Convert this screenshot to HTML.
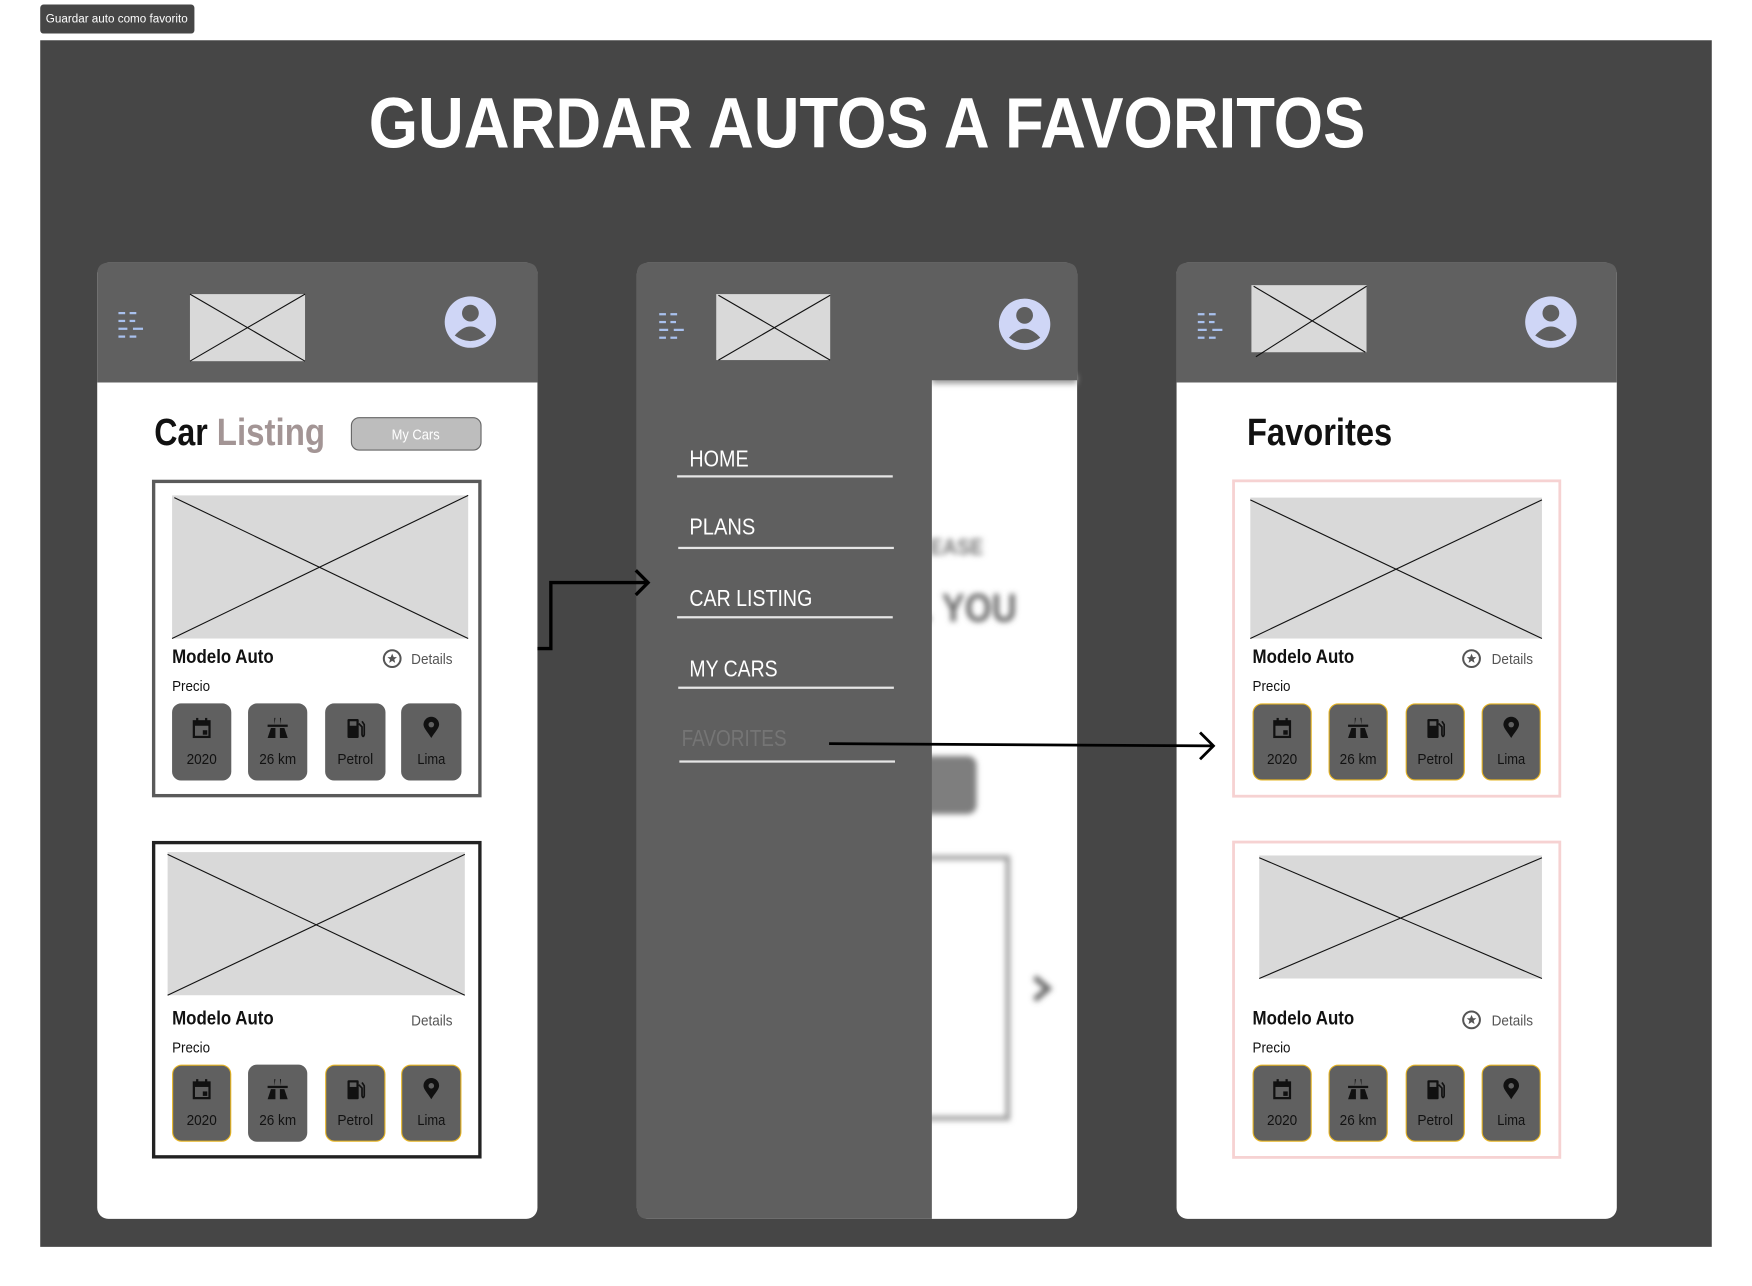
<!DOCTYPE html>
<html><head><meta charset="utf-8"><style>
html,body{margin:0;padding:0;background:#fff;width:1752px;height:1286px;overflow:hidden}
svg{display:block}
text{font-family:"Liberation Sans Narrow","Liberation Sans",sans-serif}
</style></head><body>
<svg width="1752" height="1286" viewBox="0 0 1568 1150" preserveAspectRatio="none" xmlns="http://www.w3.org/2000/svg">
<defs>
<filter id="bl" x="-20%" y="-20%" width="140%" height="140%"><feGaussianBlur stdDeviation="2.5"/></filter>
<g id="ham" fill="#a9c1ee">
<rect x="0" y="0" width="6" height="2"/><rect x="10" y="0" width="6" height="2"/>
<rect x="0" y="7" width="6" height="2"/><rect x="10" y="7" width="5" height="2"/>
<rect x="0" y="14" width="8" height="2"/><rect x="13" y="14" width="9" height="2"/>
<rect x="0" y="21" width="6" height="2"/><rect x="10" y="21" width="6" height="2"/>
</g>
<g id="av"><circle cx="0" cy="0" r="23" fill="#cfd6f6"/><circle cx="0" cy="-8" r="7.5" fill="#5f5f5f"/><path d="M-14 12 Q0 -4 14 12 Q0 22 -14 12Z" fill="#5f5f5f"/></g>
<g id="star"><circle cx="0" cy="0" r="7.5" fill="none" stroke="#555" stroke-width="1.8"/><polygon points="0,-4.5 1.3,-1.4 4.3,-1.4 1.9,0.6 2.7,3.8 0,2 -2.7,3.8 -1.9,0.6 -4.3,-1.4 -1.3,-1.4" fill="#555"/></g>
<g id="i1"><rect x="-7" y="-6" width="14" height="14" fill="none" stroke="#111" stroke-width="2"/><rect x="-7" y="-6" width="14" height="4" fill="#111"/><rect x="-5" y="-9" width="2" height="4" fill="#111"/><rect x="3" y="-9" width="2" height="4" fill="#111"/><rect x="1" y="2" width="4" height="4" fill="#111"/></g>
<g id="i2" fill="#111"><rect x="-9" y="-3" width="18" height="2"/><path d="M-3-9 L-2-9 -3-3Z M2-9 L3-9 3-3Z"/><path d="M-6 0 L-2 0 -2 9 -9 9Z M2 0 L6 0 9 9 2 9Z"/></g>
<g id="i3" fill="#111"><rect x="-7" y="-8" width="10" height="17" rx="1"/><rect x="-5" y="-6" width="6" height="4" fill="#606060"/><path d="M3-4 L6-1 6 6 Q7 9 8 6 L8-3 6-6" fill="none" stroke="#111" stroke-width="1.5"/></g>
<g id="i4"><path d="M0 9 C-3 4 -7 0 -7 -3 A7 7 0 0 1 7 -3 C7 0 3 4 0 9Z" fill="#111"/><circle cx="0" cy="-3" r="2.5" fill="#606060"/></g>
</defs>

<rect x="0" y="0" width="1568" height="1150" fill="#fff"/>
<rect x="36" y="4" width="138" height="26" rx="3" fill="#464646"/>
<text x="41" y="20" font-size="11" fill="#fff" textLength="127" lengthAdjust="spacingAndGlyphs">Guardar auto como favorito</text>
<rect x="36" y="36" width="1496" height="1079" fill="#464646"/>
<text x="776" y="132" font-size="64" font-weight="bold" fill="#fff" text-anchor="middle" textLength="892" lengthAdjust="spacingAndGlyphs">GUARDAR AUTOS A FAVORITOS</text>

<!-- Phone 1 -->
<rect x="87" y="235" width="394" height="855" rx="10" fill="#fff"/>
<path d="M87 342 V245 Q87 235 97 235 H471 Q481 235 481 245 V342Z" fill="#606060"/>
<use href="#ham" x="106" y="279"/>
<rect x="170" y="263" width="103" height="60" fill="#d9d9d9"/>
<path d="M170 263 L273 323 M170 323 L273 263" stroke="#111" stroke-width="1"/>
<use href="#av" x="421" y="288"/>
<text x="138" y="398" font-size="34" font-weight="bold" fill="#111" textLength="48" lengthAdjust="spacingAndGlyphs">Car</text>
<text x="194" y="398" font-size="34" font-weight="bold" fill="#a39595" textLength="97" lengthAdjust="spacingAndGlyphs">Listing</text>
<rect x="314.5" y="373.5" width="116" height="29" rx="7" fill="#bdbdbd" stroke="#666"/>
<text x="372" y="393" font-size="13" fill="#fff" text-anchor="middle" textLength="43" lengthAdjust="spacingAndGlyphs">My Cars</text>

<rect x="137.5" y="430.5" width="292" height="281" fill="none" stroke="#5a5a5a" stroke-width="3"/>
<rect x="154" y="443" width="265" height="128" fill="#d9d9d9"/>
<path d="M154 571 L419 443 M156 445 L419 571" stroke="#111" stroke-width="1"/>
<text x="154" y="593" font-size="17" font-weight="bold" fill="#111" textLength="91" lengthAdjust="spacingAndGlyphs">Modelo Auto</text>
<use href="#star" x="351" y="589"/>
<text x="368" y="594" font-size="13" fill="#555" textLength="37" lengthAdjust="spacingAndGlyphs">Details</text>
<text x="154" y="618" font-size="13" fill="#111" textLength="34" lengthAdjust="spacingAndGlyphs">Precio</text>
<g font-size="13" fill="#111" text-anchor="middle">
<rect x="154" y="629" width="53" height="69" rx="8" fill="#606060"/><use href="#i1" x="180.5" y="651"/><text x="180.5" y="683" textLength="27" lengthAdjust="spacingAndGlyphs">2020</text>
<rect x="222" y="629" width="53" height="69" rx="8" fill="#606060"/><use href="#i2" x="248.5" y="651"/><text x="248.5" y="683" textLength="33" lengthAdjust="spacingAndGlyphs">26 km</text>
<rect x="291" y="629" width="54" height="69" rx="8" fill="#606060"/><use href="#i3" x="318" y="651"/><text x="318" y="683" textLength="32" lengthAdjust="spacingAndGlyphs">Petrol</text>
<rect x="359" y="629" width="54" height="69" rx="8" fill="#606060"/><use href="#i4" x="386" y="651"/><text x="386" y="683" textLength="25" lengthAdjust="spacingAndGlyphs">Lima</text>
</g>

<rect x="137.5" y="753.5" width="292" height="281" fill="none" stroke="#222" stroke-width="3"/>
<rect x="150" y="762" width="266" height="128" fill="#d9d9d9"/>
<path d="M150 890 L416 764 M150 764 L416 890" stroke="#111" stroke-width="1"/>
<text x="154" y="916" font-size="17" font-weight="bold" fill="#111" textLength="91" lengthAdjust="spacingAndGlyphs">Modelo Auto</text>
<text x="368" y="917" font-size="13" fill="#555" textLength="37" lengthAdjust="spacingAndGlyphs">Details</text>
<text x="154" y="941" font-size="13" fill="#111" textLength="34" lengthAdjust="spacingAndGlyphs">Precio</text>
<g font-size="13" fill="#111" text-anchor="middle">
<rect x="154.5" y="952.5" width="52" height="68" rx="8" fill="#606060" stroke="#e6b422"/><use href="#i1" x="180.5" y="974"/><text x="180.5" y="1006" textLength="27" lengthAdjust="spacingAndGlyphs">2020</text>
<rect x="222" y="952" width="53" height="69" rx="8" fill="#606060"/><use href="#i2" x="248.5" y="974"/><text x="248.5" y="1006" textLength="33" lengthAdjust="spacingAndGlyphs">26 km</text>
<rect x="291.5" y="952.5" width="53" height="68" rx="8" fill="#606060" stroke="#e6b422"/><use href="#i3" x="318" y="974"/><text x="318" y="1006" textLength="32" lengthAdjust="spacingAndGlyphs">Petrol</text>
<rect x="359.5" y="952.5" width="53" height="68" rx="8" fill="#606060" stroke="#e6b422"/><use href="#i4" x="386" y="974"/><text x="386" y="1006" textLength="25" lengthAdjust="spacingAndGlyphs">Lima</text>
</g>

<!-- Phone 2 -->
<rect x="570" y="235" width="394" height="855" rx="10" fill="#fff"/>
<g filter="url(#bl)">
<text x="832" y="496" font-size="20" font-weight="bold" fill="#777" textLength="48" lengthAdjust="spacingAndGlyphs">EASE</text>
<text x="826" y="556" font-size="36" font-weight="bold" fill="#666" textLength="84" lengthAdjust="spacingAndGlyphs">. YOU</text>
<rect x="800" y="676" width="74" height="52" rx="8" fill="#7e7e7e"/>
<rect x="800" y="767" width="102" height="233" fill="none" stroke="#999" stroke-width="4"/>
<path d="M926 874 L938 884 926 894" fill="none" stroke="#666" stroke-width="5"/>
<rect x="834" y="335" width="130" height="8" fill="#999"/>
</g>
<path d="M570 1080 V245 Q570 235 580 235 H954 Q964 235 964 245 V340 H834 V1090 H580 Q570 1090 570 1080Z" fill="#5f5f5f"/>
<use href="#ham" x="590" y="280"/>
<rect x="641" y="263" width="102" height="59" fill="#d9d9d9"/>
<path d="M643 264 L743 322 M643 322 L743 264" stroke="#111" stroke-width="1"/>
<use href="#av" x="917" y="290"/>
<g font-size="21" fill="#fff">
<text x="617" y="417" textLength="53" lengthAdjust="spacingAndGlyphs">HOME</text>
<text x="617" y="478" textLength="59" lengthAdjust="spacingAndGlyphs">PLANS</text>
<text x="617" y="542" textLength="110" lengthAdjust="spacingAndGlyphs">CAR LISTING</text>
<text x="617" y="605" textLength="79" lengthAdjust="spacingAndGlyphs">MY CARS</text>
<text x="610" y="667" fill="#757575" textLength="94" lengthAdjust="spacingAndGlyphs">FAVORITES</text>
</g>
<g fill="#e6e6e6">
<rect x="606" y="425" width="193" height="2"/>
<rect x="607" y="489" width="193" height="2"/>
<rect x="606" y="551" width="193" height="2"/>
<rect x="607" y="614" width="193" height="2"/>
<rect x="608" y="680" width="193" height="2"/>
</g>

<!-- Phone 3 -->
<rect x="1053" y="235" width="394" height="855" rx="10" fill="#fff"/>
<path d="M1053 342 V245 Q1053 235 1063 235 H1437 Q1447 235 1447 245 V342Z" fill="#606060"/>
<use href="#ham" x="1072" y="280"/>
<rect x="1120" y="255" width="103" height="60" fill="#d9d9d9"/>
<path d="M1124 319 L1223 256 M1122 256 L1222 315" stroke="#111" stroke-width="1"/>
<use href="#av" x="1388" y="288"/>
<text x="1116" y="398" font-size="34" font-weight="bold" fill="#111" textLength="130" lengthAdjust="spacingAndGlyphs">Favorites</text>

<rect x="1104" y="430" width="292" height="282" fill="none" stroke="#f6d2d2" stroke-width="2.5"/>
<rect x="1119" y="445" width="261" height="126" fill="#d9d9d9"/>
<path d="M1119 447 L1380 571 M1119 571 L1380 447" stroke="#111" stroke-width="1"/>
<text x="1121" y="593" font-size="17" font-weight="bold" fill="#111" textLength="91" lengthAdjust="spacingAndGlyphs">Modelo Auto</text>
<use href="#star" x="1317" y="589"/>
<text x="1335" y="594" font-size="13" fill="#555" textLength="37" lengthAdjust="spacingAndGlyphs">Details</text>
<text x="1121" y="618" font-size="13" fill="#111" textLength="34" lengthAdjust="spacingAndGlyphs">Precio</text>
<g font-size="13" fill="#111" text-anchor="middle">
<rect x="1121.5" y="629.5" width="52" height="68" rx="8" fill="#606060" stroke="#e6b422"/><use href="#i1" x="1147.5" y="651"/><text x="1147.5" y="683" textLength="27" lengthAdjust="spacingAndGlyphs">2020</text>
<rect x="1189.5" y="629.5" width="52" height="68" rx="8" fill="#606060" stroke="#e6b422"/><use href="#i2" x="1215.5" y="651"/><text x="1215.5" y="683" textLength="33" lengthAdjust="spacingAndGlyphs">26 km</text>
<rect x="1258.5" y="629.5" width="52" height="68" rx="8" fill="#606060" stroke="#e6b422"/><use href="#i3" x="1284.5" y="651"/><text x="1284.5" y="683" textLength="32" lengthAdjust="spacingAndGlyphs">Petrol</text>
<rect x="1326.5" y="629.5" width="52" height="68" rx="8" fill="#606060" stroke="#e6b422"/><use href="#i4" x="1352.5" y="651"/><text x="1352.5" y="683" textLength="25" lengthAdjust="spacingAndGlyphs">Lima</text>
</g>

<rect x="1104" y="753" width="292" height="282" fill="none" stroke="#f6d2d2" stroke-width="2.5"/>
<rect x="1127" y="765" width="253" height="110" fill="#d9d9d9"/>
<path d="M1127 875 L1380 767 M1127 767 L1380 875" stroke="#111" stroke-width="1"/>
<text x="1121" y="916" font-size="17" font-weight="bold" fill="#111" textLength="91" lengthAdjust="spacingAndGlyphs">Modelo Auto</text>
<use href="#star" x="1317" y="912"/>
<text x="1335" y="917" font-size="13" fill="#555" textLength="37" lengthAdjust="spacingAndGlyphs">Details</text>
<text x="1121" y="941" font-size="13" fill="#111" textLength="34" lengthAdjust="spacingAndGlyphs">Precio</text>
<g font-size="13" fill="#111" text-anchor="middle">
<rect x="1121.5" y="952.5" width="52" height="68" rx="8" fill="#606060" stroke="#e6b422"/><use href="#i1" x="1147.5" y="974"/><text x="1147.5" y="1006" textLength="27" lengthAdjust="spacingAndGlyphs">2020</text>
<rect x="1189.5" y="952.5" width="52" height="68" rx="8" fill="#606060" stroke="#e6b422"/><use href="#i2" x="1215.5" y="974"/><text x="1215.5" y="1006" textLength="33" lengthAdjust="spacingAndGlyphs">26 km</text>
<rect x="1258.5" y="952.5" width="52" height="68" rx="8" fill="#606060" stroke="#e6b422"/><use href="#i3" x="1284.5" y="974"/><text x="1284.5" y="1006" textLength="32" lengthAdjust="spacingAndGlyphs">Petrol</text>
<rect x="1326.5" y="952.5" width="52" height="68" rx="8" fill="#606060" stroke="#e6b422"/><use href="#i4" x="1352.5" y="974"/><text x="1352.5" y="1006" textLength="25" lengthAdjust="spacingAndGlyphs">Lima</text>
</g>

<!-- Connectors -->
<path d="M481 580 H493 V521 H580" fill="none" stroke="#000" stroke-width="3"/>
<path d="M569 510 L580 521 569 532" fill="none" stroke="#000" stroke-width="3"/>
<path d="M742 665 L1086 667" fill="none" stroke="#000" stroke-width="2.5"/>
<path d="M1074 655 L1086 667 1074 679" fill="none" stroke="#000" stroke-width="2.5"/>
</svg>
</body></html>
